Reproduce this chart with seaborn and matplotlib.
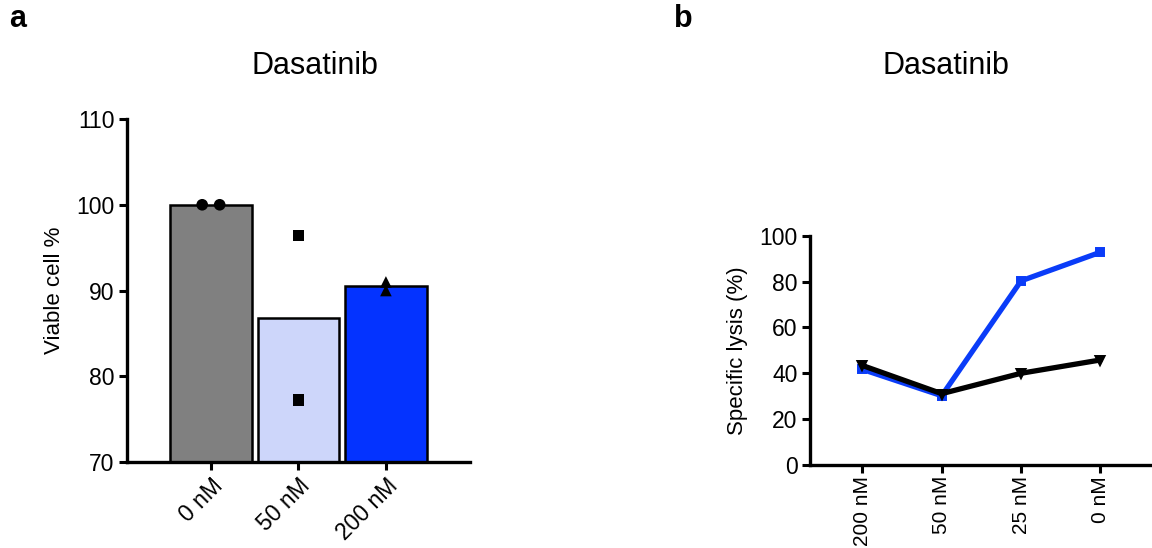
import numpy as np
import pandas as pd
import matplotlib
matplotlib.use('Agg')
import matplotlib.pyplot as plt
import seaborn as sns

# panel a data
doses_a = ['0 nM', '50 nM', '200 nM']
rep1_a = [100.0, 96.4, 91.0]
rep2_a = [100.0, 77.2, 90.0]
dot_offset = [[-0.1, 0.1], [0.0, 0.0], [0.0, 0.0]]
bar_colors = ['#808080', '#CDD6FA', '#0433FF']
dot_markers = ['o', 's', '^']

# panel b data
doses_b = ['200 nM', '50 nM', '25 nM', '0 nM']
lysis_blue = [41.7, 30.2, 80.3, 92.8]
lysis_black = [43.4, 31.1, 40.0, 45.8]

sns.set_style('white')
plt.rcParams['font.family'] = ['Liberation Sans', 'DejaVu Sans']
plt.rcParams['text.color'] = 'black'
plt.rcParams['axes.labelcolor'] = 'black'
plt.rcParams['xtick.color'] = 'black'
plt.rcParams['ytick.color'] = 'black'

fig = plt.figure(figsize=(11.52, 5.48), dpi=100)
ax1 = fig.add_axes([0.1102, 0.1569, 0.2977, 0.6259])
ax2 = fig.add_axes([0.7031, 0.1515, 0.2969, 0.4184])

"""
Bar plot of viable cells
"""
df_a = pd.DataFrame({'dose': doses_a, 'mean': [(a + b) / 2 for a, b in zip(rep1_a, rep2_a)]})
sns.barplot(data=df_a, x='dose', y='mean', hue='dose', palette=bar_colors, width=0.93,
            saturation=1, edgecolor='black', linewidth=1.8, legend=False, ax=ax1)

for i in range(len(doses_a)):
    pts = pd.DataFrame({'x': [i + dot_offset[i][0], i + dot_offset[i][1]],
                        'y': [rep1_a[i], rep2_a[i]]})
    sns.scatterplot(data=pts, x='x', y='y', marker=dot_markers[i], color='black',
                    s=70, edgecolor='none', ax=ax1, zorder=5, clip_on=False)

ax1.set_ylim(70, 110)
ax1.set_xlim(-0.96, 2.96)
ax1.set_yticks([70, 80, 90, 100, 110])
ax1.set_xticks(range(len(doses_a)))
ax1.set_xticklabels(doses_a, rotation=45, ha='right', rotation_mode='anchor')
ax1.set_xlabel('')
ax1.set_ylabel('Viable cell %', fontsize=16, labelpad=8)

"""
Line plot of specific lysis
"""
df_b = pd.DataFrame({'dose': doses_b * 2,
                     'lysis': lysis_blue + lysis_black,
                     'group': ['blue'] * 4 + ['black'] * 4})
sns.pointplot(data=df_b, x='dose', y='lysis', hue='group', palette=['#0A3CF8', 'black'],
              markers=['s', 'v'], linestyles=['-', '-'], linewidth=3.8, markersize=5,
              legend=False, ax=ax2)

ax2.set_ylim(0, 100)
ax2.set_xlim(-0.66, 3.65)
ax2.set_yticks([0, 20, 40, 60, 80, 100])
ax2.set_xticks(range(len(doses_b)))
ax2.set_xticklabels(doses_b, rotation=90, va='top', ha='center')
ax2.set_xlabel('')
ax2.set_ylabel('Specific lysis (%)', fontsize=16, labelpad=8)

for ax in [ax1, ax2]:
    sns.despine(ax=ax)
    for s in ['left', 'bottom']:
        ax.spines[s].set_linewidth(2.4)
        ax.spines[s].set_color('black')
    ax.tick_params(axis='both', direction='out', length=6, width=2.2,
                   labelsize=16.5, color='black', left=True, bottom=True, pad=3)
ax2.tick_params(axis='x', labelsize=15, pad=2)

fig.text(0.273, 0.88, 'Dasatinib', fontsize=22, ha='center', va='center')
fig.text(0.821, 0.88, 'Dasatinib', fontsize=22, ha='center', va='center')
fig.text(0.008, 0.965, 'a', fontsize=22, fontweight='bold', ha='left', va='center')
fig.text(0.585, 0.965, 'b', fontsize=22, fontweight='bold', ha='left', va='center')

fig.savefig('out.png', dpi=100)
